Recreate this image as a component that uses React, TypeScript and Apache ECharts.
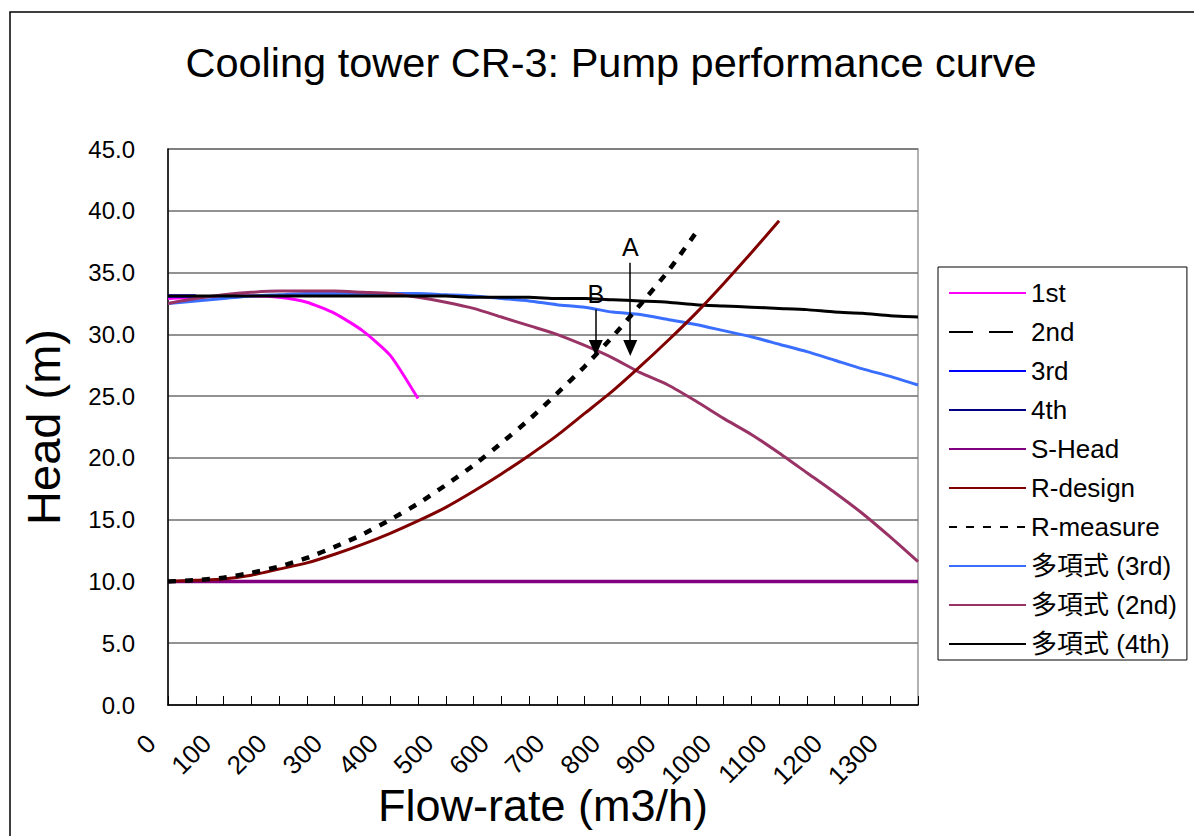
import React, { useEffect, useRef } from "react";
import * as echarts from "echarts";

const FONT = "'Liberation Sans', Arial, 'Noto Sans CJK JP', sans-serif";

const TITLE = "Cooling tower CR-3: Pump performance curve";
const X_NAME = "Flow-rate (m3/h)";
const Y_NAME = "Head (m)";

// flow-rate positions (m3/h)
const xs = [0, 50, 100, 150, 200, 250, 300, 350, 400, 450, 500, 550, 600, 650, 700, 750, 800, 850, 900, 950, 1000, 1050, 1100, 1150, 1200, 1250, 1300, 1350];

// head values (m)
const first = [32.9, 33.0, 33.1, 33.1, 33.0, 32.6, 31.7, 30.3, 28.3, 24.8];
const second: number[] = [];
const third = [33.1, 33.1];
const fourth: number[] = [];
const sHead = [10.0, 10.0, 10.0, 10.0, 10.0, 10.0, 10.0, 10.0, 10.0, 10.0, 10.0, 10.0, 10.0, 10.0, 10.0, 10.0, 10.0, 10.0, 10.0, 10.0, 10.0, 10.0, 10.0, 10.0, 10.0, 10.0, 10.0, 10.0];
const rDesign = [10.0, 10.1, 10.2, 10.5, 11.0, 11.5, 12.2, 13.0, 13.9, 14.9, 16.0, 17.3, 18.7, 20.2, 21.8, 23.6, 25.4, 27.4, 29.5, 31.7, 34.1, 36.6, 39.2];
const rMeasure = [10.0, 10.1, 10.3, 10.7, 11.2, 11.9, 12.8, 13.8, 15.0, 16.3, 17.8, 19.4, 21.2, 23.1, 25.2, 27.4, 29.8, 32.4, 35.1, 38.2];
const fit3 = [32.5, 32.7, 32.9, 33.1, 33.2, 33.3, 33.3, 33.3, 33.3, 33.3, 33.2, 33.1, 32.9, 32.7, 32.4, 32.2, 31.8, 31.6, 31.2, 30.8, 30.3, 29.8, 29.2, 28.6, 27.9, 27.2, 26.6, 25.9];
const fit2 = [32.5, 32.9, 33.2, 33.4, 33.5, 33.5, 33.5, 33.4, 33.3, 33.0, 32.6, 32.1, 31.4, 30.7, 30.0, 29.1, 28.1, 26.9, 25.9, 24.6, 23.2, 21.9, 20.4, 18.8, 17.2, 15.5, 13.6, 11.6];
const fit4 = [33.1, 33.1, 33.1, 33.1, 33.1, 33.1, 33.1, 33.1, 33.1, 33.1, 33.1, 33.0, 33.0, 33.0, 32.9, 32.9, 32.8, 32.7, 32.6, 32.4, 32.3, 32.2, 32.1, 32.0, 31.8, 31.7, 31.5, 31.4];

// annotation arrows: label, flow-rate, top head, tip head
const arrowNames = ["A", "B"];
const arrowX = [832, 770];
const arrowTop = [35.8, 32.0];
const arrowTip = [28.9, 28.9];

const legendNames = ["1st", "2nd", "3rd", "4th", "S-Head", "R-design", "R-measure", "多項式 (3rd)", "多項式 (2nd)", "多項式 (4th)"];
const yTicks = [0, 5, 10, 15, 20, 25, 30, 35, 40, 45];

const pairs = (arr: number[]) => arr.map((v, i) => [xs[i], v]);

export default function App() {
  const ref = useRef<HTMLDivElement>(null);
  useEffect(() => {
    if (!ref.current) return;
    const chart = echarts.init(ref.current, undefined, { renderer: "svg" });
    const line = (name: string, data: number[], color: string, width: number, type: any = "solid", z = 2) => ({
      name,
      type: "line",
      data: pairs(data),
      symbol: "none",
      showSymbol: false,
      smooth: 0.2,
      z,
      lineStyle: { color, width, type, cap: "butt" },
      itemStyle: { color },
    });
    const sHeadSeries: any = line("S-Head", sHead, "#800080", 3.5, "solid", 5);
    sHeadSeries.markLine = {
      silent: true,
      symbol: ["none", "triangle"],
      symbolSize: [14, 16],
      lineStyle: { color: "#000", width: 1.5, type: "solid" },
      label: { show: true, position: "start", formatter: "{b}", color: "#000", fontSize: 25, fontFamily: FONT, distance: 3 },
      data: arrowNames.map((n, i) => [
        { name: n, coord: [arrowX[i], arrowTop[i]] },
        { coord: [arrowX[i], arrowTip[i]] },
      ]),
    };
    chart.setOption({
      animation: false,
      backgroundColor: "#fff",
      textStyle: { fontFamily: FONT },
      title: {
        text: TITLE,
        left: 606,
        textAlign: "center",
        top: 37,
        textStyle: { fontSize: 41.5, fontWeight: "normal", color: "#000", fontFamily: FONT },
      },
      graphic: [
        { type: "rect", shape: { x: 10, y: 12, width: 1400, height: 1000 }, style: { fill: "none", stroke: "#000", lineWidth: 1.5 }, silent: true },
      ],
      grid: {
        left: 168, top: 149, width: 750, height: 556,
        outerBoundsMode: "none", containLabel: false,
        show: true, borderColor: "#999", borderWidth: 1.5, backgroundColor: "#fff",
      },
      legend: {
        data: legendNames,
        orient: "vertical",
        left: 938,
        top: 267,
        padding: [13, 10, 3, 10],
        itemWidth: 77,
        itemHeight: 14,
        itemGap: 13,
        borderColor: "#000",
        borderWidth: 1,
        backgroundColor: "#fff",
        itemStyle: { opacity: 0 },
        textStyle: { fontSize: 26, lineHeight: 26, color: "#000", fontFamily: FONT },
      },
      xAxis: {
        type: "value",
        min: 0,
        max: 1350,
        interval: 50,
        name: X_NAME,
        nameLocation: "middle",
        nameGap: 78,
        nameMoveOverlap: false,
        nameTextStyle: { fontSize: 45, color: "#000", fontFamily: FONT },
        axisLine: { lineStyle: { color: "#000", width: 1.5 } },
        axisTick: { show: true, inside: true, length: 9, lineStyle: { color: "#000", width: 1 } },
        splitLine: { show: false },
        axisLabel: {
          rotate: 45,
          margin: 17,
          fontSize: 26,
          color: "#000",
          fontFamily: FONT,
          formatter: (v: number) => (v % 100 === 0 && v <= 1300 ? "{a|" + v + "}" : ""),
          rich: { a: { fontSize: 26, color: "#000", fontFamily: FONT, padding: [0, 24, 0, 0] } },
        },
      },
      yAxis: {
        type: "value",
        min: yTicks[0],
        max: yTicks[yTicks.length - 1],
        interval: 5,
        name: Y_NAME,
        nameLocation: "middle",
        nameGap: 101,
        nameMoveOverlap: false,
        nameTextStyle: { fontSize: 47, color: "#000", fontFamily: FONT },
        axisLine: { show: true, lineStyle: { color: "#000", width: 1.5 } },
        axisTick: { show: false },
        splitLine: { lineStyle: { color: "#6e6e6e", width: 1.5 } },
        axisLabel: { margin: 33, fontSize: 24, color: "#000", fontFamily: FONT, formatter: (v: number) => v.toFixed(1) },
      },
      series: [
        line("1st", first, "#FF00FF", 3, "solid", 2),
        line("2nd", second, "#000000", 4, [24, 16], 2),
        line("3rd", third, "#0000FF", 3.5, "solid", 2),
        line("4th", fourth, "#000080", 1.5, "solid", 2),
        line("多項式 (3rd)", fit3, "#3A6EFF", 3, "solid", 3),
        line("多項式 (2nd)", fit2, "#993366", 3, "solid", 3),
        line("多項式 (4th)", fit4, "#000000", 3, "solid", 4),
        sHeadSeries,
        line("R-design", rDesign, "#800000", 3, "solid", 5),
        line("R-measure", rMeasure, "#000000", 4.5, [8, 9], 5),
      ],
    });
    return () => chart.dispose();
  }, []);
  return <div ref={ref} style={{ position: "fixed", left: 0, top: 0, width: 1194, height: 836 }} />;
}
